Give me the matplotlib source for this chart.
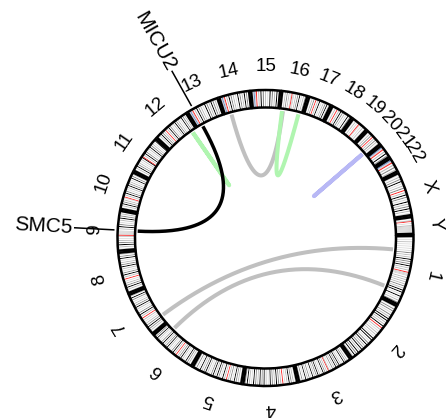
import numpy as np
import matplotlib
matplotlib.use('Agg')
import matplotlib.pyplot as plt
from matplotlib.patches import Wedge

plt.rcParams['font.family'] = ['Liberation Sans', 'DejaVu Sans']

# ---------------- data ----------------
CHROMS = ['1', '2', '3', '4', '5', '6', '7', '8', '9', '10', '11', '12',
          '13', '14', '15', '16', '17', '18', '19', '20', '21', '22', 'X', 'Y']
CHROM_LENGTHS_MB = [249.25, 243.2, 198.0, 191.15, 180.9, 171.1, 159.1, 146.4,
                    141.2, 135.5, 135.0, 133.85, 115.2, 107.35, 102.5, 90.35,
                    81.2, 78.1, 59.1, 63.0, 48.1, 51.3, 155.3, 59.4]
# approximate cytoband stains along each chromosome (equal units per character)
# 0 gneg, 1 gpos25, 2 gpos50, 3 gpos75, 4 gpos100, c acen, s stalk, v gvar
BAND_STAINS = [
    "010102010101010302020403030402020" + "c" + "vvv" + "020202020302040401040102030",
    "01030301030204040202040" + "c" + "0201020201040401030402030402040304020",
    "01020304010204030402030102" + "c" + "020304010204030204010302040103020",
    "0102030402010" + "c" + "0203040203040102040304020304010204030",
    "010203040103020" + "c" + "02040103040204030102040302040103020",
    "0102030401020403020" + "c" + "020403010204030204030102040302",
    "01020304030201020" + "c" + "0204030102040302010304020",
    "0102040302010" + "c" + "0204030102040302010403020",
    "01020403020102" + "c" + "vvvv" + "020403010204030201",
    "010204030201" + "c" + "0204030102040302010403020",
    "0102040302010204" + "c" + "020403010204030201040",
    "01020403020" + "c" + "02040301020403020104030201",
    "1vsv" + "c" + "020403020104030204030201",
    "1vsv" + "c" + "0204030201040302040302",
    "1vsv" + "c" + "02040302010403020402",
    "0102030201" + "c" + "vv" + "0203040102030",
    "0102030" + "c" + "020401020304020",
    "01020" + "c" + "020403020104030",
    "0102010" + "c" + "v" + "0102010",
    "0102030" + "c" + "020302010",
    "vsv" + "c" + "0204030",
    "vsv" + "c" + "0203020",
    "010203040102030" + "c" + "020403010402030402010",
    "0102" + "c" + "0102" + "vvvvvvvv",
]
STAIN_COLORS = {'0': '#ffffff', '1': '#dcdcdc', '2': '#bdbdbd', '3': '#8a8a8a',
                '4': '#000000', 'c': '#ff3030', 's': '#7090cc', 'v': '#d6d6d6'}

# links: (chrom A, pos A Mb) -> (chrom B, pos B Mb)
LINK_CHROM_A = ['1', '1', '14', '16', '12', '20', '9']
LINK_POS_A = [53.5, 205.8, 25.6, 8.4, 114.5, 49.0, 72.9]
LINK_CHROM_B = ['7', '6', '16', '16', '12', '20', '13']
LINK_POS_B = [30.8, 137.4, 12.0, 76.5, 115.5, 50.0, 22.0]
LINK_COLORS = ['#c0c0c0', '#c0c0c0', '#c0c0c0', '#b0f5b0', '#b0f5b0',
               '#b8b8f5', '#000000']
LINK_WIDTHS = [2.9, 2.9, 2.9, 2.9, 2.9, 2.9, 2.5]

GENE_NAMES = ['MICU2', 'SMC5']
GENE_CHROMS = ['13', '9']
GENE_POS = [22.0, 72.9]

# ---------------- layout ----------------
CX, CY = 0.0, 0.0
R_OUT, R_IN = 148.0, 130.5
R_LINK = 128.0
R_CHR_LABEL = 171.0
R_GENE_LINE = (152.0, 191.0)
R_GENE_TEXT = 193.0
GAP_DEG = 0.8
OFFSET_DEG = -0.8

total = sum(CHROM_LENGTHS_MB)
scale = (360.0 - len(CHROMS) * GAP_DEG) / total
cum = np.concatenate([[0], np.cumsum(CHROM_LENGTHS_MB)[:-1]])


def cw_angle(chrom, pos):
    i = CHROMS.index(chrom)
    return OFFSET_DEG + i * GAP_DEG + scale * (cum[i] + pos)


def math_angle(chrom, pos):
    return -cw_angle(chrom, pos)


def xy(deg, r):
    t = np.deg2rad(deg)
    return CX + r * np.cos(t), CY + r * np.sin(t)


fig = plt.figure(figsize=(4.46, 4.18), dpi=100)
ax = fig.add_axes([0, 0, 1, 1])
ax.set_xlim(-265.5, 180.5)
ax.set_ylim(-180, 238)
ax.set_aspect('equal')
ax.axis('off')

# ideogram
for ci, chrom in enumerate(CHROMS):
    L = CHROM_LENGTHS_MB[ci]
    stains = BAND_STAINS[ci]
    n = len(stains)
    for k, s in enumerate(stains):
        a0 = math_angle(chrom, L * (k + 1) / n)
        a1 = math_angle(chrom, L * k / n)
        ax.add_patch(Wedge((CX, CY), R_OUT, a0, a1, width=R_OUT - R_IN,
                           facecolor=STAIN_COLORS[s], edgecolor='none', lw=0))
    a0 = math_angle(chrom, L)
    a1 = math_angle(chrom, 0)
    ax.add_patch(Wedge((CX, CY), R_OUT, a0, a1, width=R_OUT - R_IN,
                       facecolor='none', edgecolor='black', lw=1.8))
    # chromosome label
    mid = math_angle(chrom, L / 2)
    lx, ly = xy(mid, R_CHR_LABEL)
    ax.text(lx, ly, chrom, fontsize=13.5, rotation=mid - 90, ha='center',
            va='center', rotation_mode='anchor')

# links (quadratic bezier with the centre as control point)
t = np.linspace(0, 1, 200)[:, None]
for ca, pa, cb, pb, col, lw in zip(LINK_CHROM_A, LINK_POS_A, LINK_CHROM_B,
                                   LINK_POS_B, LINK_COLORS, LINK_WIDTHS):
    p0 = np.array(xy(math_angle(ca, pa), R_LINK))
    p2 = np.array(xy(math_angle(cb, pb), R_LINK))
    c = np.array([CX, CY])
    pts = (1 - t) ** 2 * p0 + 2 * t * (1 - t) * c + t ** 2 * p2
    ax.plot(pts[:, 0], pts[:, 1], color=col, lw=lw, solid_capstyle='butt',
            solid_joinstyle='round')

# gene labels
for name, chrom, pos in zip(GENE_NAMES, GENE_CHROMS, GENE_POS):
    a = math_angle(chrom, pos)
    x0, y0 = xy(a, R_GENE_LINE[0])
    x1, y1 = xy(a, R_GENE_LINE[1])
    ax.plot([x0, x1], [y0, y1], color='black', lw=1.1)
    tx, ty = xy(a, R_GENE_TEXT)
    an = a % 360
    if 90 < an < 270:
        rot, ha = an - 180, 'right'
    else:
        rot, ha = an, 'left'
    ax.text(tx, ty, name, fontsize=15, rotation=rot, ha=ha, va='center',
            rotation_mode='anchor')

fig.savefig('out.png', dpi=100)
